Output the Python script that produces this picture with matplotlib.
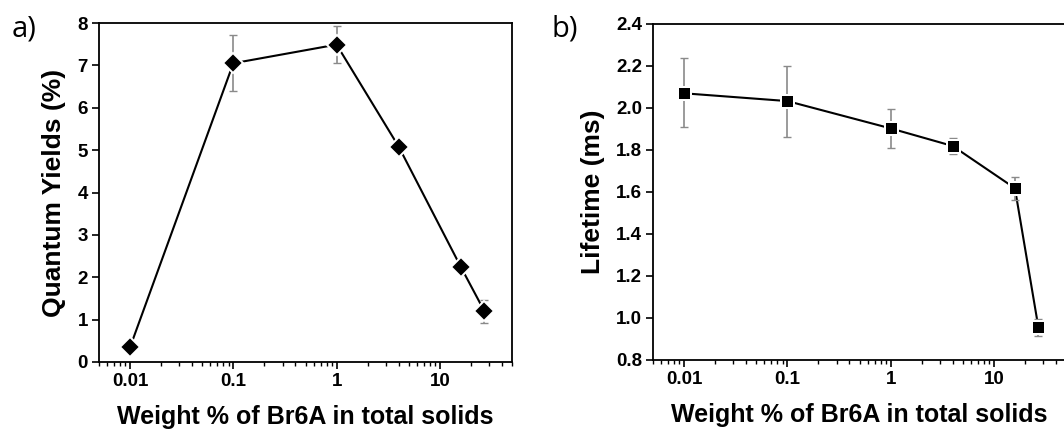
import matplotlib
matplotlib.use("Agg")
import matplotlib.pyplot as plt
from matplotlib.ticker import FixedLocator, FixedFormatter, LogLocator, NullFormatter, MultipleLocator, FormatStrFormatter

# ---- data ----
weight = [0.01, 0.1, 1, 4, 16, 27]
qy = [0.35, 7.05, 7.49, 5.08, 2.24, 1.20]
qy_err_lo = [0.0, 0.66, 0.43, 0.0, 0.0, 0.27]
qy_err_hi = [0.0, 0.67, 0.44, 0.0, 0.0, 0.26]
lifetime = [2.07, 2.033, 1.903, 1.819, 1.618, 0.956]
lt_err_lo = [0.16, 0.171, 0.095, 0.039, 0.056, 0.042]
lt_err_hi = [0.167, 0.167, 0.092, 0.037, 0.055, 0.038]
xticks = [0.01, 0.1, 1, 10]
xtick_labels = ["0.01", "0.1", "1", "10"]
xlabel = "Weight % of Br6A in total solids"

W, H = 1064, 430
fig = plt.figure(figsize=(W / 100, H / 100), dpi=100)
fontfam = ["Liberation Sans", "DejaVu Sans"]


def ax_rect(l, t, r, b):
    return [l / W, 1 - b / H, (r - l) / W, (b - t) / H]


def style(ax, ylim, ymajor, yfmt):
    ax.set_xscale("log")
    ax.set_xlim(0.005, 50)
    ax.set_ylim(*ylim)
    ax.xaxis.set_major_locator(FixedLocator(xticks))
    ax.xaxis.set_major_formatter(FixedFormatter(xtick_labels))
    ax.xaxis.set_minor_locator(LogLocator(base=10, subs=range(2, 10)))
    ax.xaxis.set_minor_formatter(NullFormatter())
    ax.yaxis.set_major_locator(MultipleLocator(ymajor))
    ax.yaxis.set_major_formatter(FormatStrFormatter(yfmt))
    ax.tick_params(which="major", direction="out", length=5, width=1.2,
                   labelsize=13.5, pad=3)
    ax.tick_params(which="minor", direction="out", length=3, width=1.0)
    for lab in ax.get_xticklabels() + ax.get_yticklabels():
        lab.set_fontweight("bold")
        lab.set_family(fontfam)
    for s in ax.spines.values():
        s.set_linewidth(1.3)
    ax.set_xlabel(xlabel, fontsize=18, fontweight="bold", family=fontfam, labelpad=11)


def draw(ax, y, lo, hi, marker, ms):
    ax.plot(weight, y, color="black", lw=1.5, zorder=2)
    _, caps, bars = ax.errorbar(weight, y, yerr=[lo, hi], fmt="none", ecolor="#8a8a8a",
                                elinewidth=1.2, capsize=2.6, capthick=1.0, zorder=3)
    for c in caps:
        c.set_color("#333333")
    ax.plot(weight, y, linestyle="none", marker=marker, ms=ms, mfc="black",
            mec="white", mew=1.44, zorder=4)


# panel a
ax1 = fig.add_axes(ax_rect(99, 23, 512, 362))
draw(ax1, qy, qy_err_lo, qy_err_hi, "D", 10.1)
style(ax1, (0, 8), 1, "%d")
ax1.set_ylabel("Quantum Yields (%)", fontsize=19, fontweight="bold", family=fontfam, labelpad=8)
fig.text(12 / W, 1 - 29 / H, "a)", fontsize=21, family=["Open Sans", "DejaVu Sans"], va="center", ha="left")

# panel b
ax2 = fig.add_axes(ax_rect(653, 24, 1066, 360))
draw(ax2, lifetime, lt_err_lo, lt_err_hi, "s", 9.36)
style(ax2, (0.8, 2.4), 0.2, "%.1f")
ax2.set_ylabel("Lifetime (ms)", fontsize=19, fontweight="bold", family=fontfam, labelpad=8)
fig.text(552 / W, 1 - 29 / H, "b)", fontsize=21, family=["Open Sans", "DejaVu Sans"], va="center", ha="left")

fig.savefig("out.png", dpi=100)
